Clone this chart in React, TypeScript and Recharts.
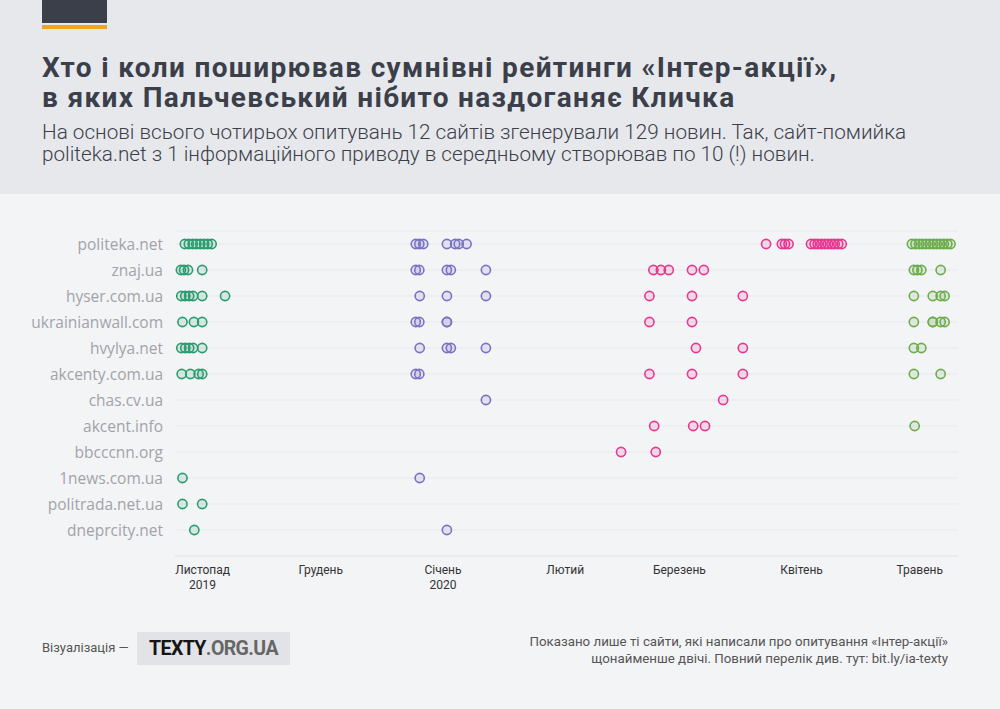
import React from 'react'
import { ScatterChart, Scatter, XAxis, YAxis, CartesianGrid } from 'recharts'

const SITES = [
  'politeka.net',
  'znaj.ua',
  'hyser.com.ua',
  'ukrainianwall.com',
  'hvylya.net',
  'akcenty.com.ua',
  'chas.cv.ua',
  'akcent.info',
  'bbcccnn.org',
  '1news.com.ua',
  'politrada.net.ua',
  'dneprcity.net',
]

// x values are days counted from 1 November 2019
const MONTH_DAYS = [0, 30, 61, 92, 121, 152, 182]
const MONTH_LABELS = ['Листопад\n2019', 'Грудень', 'Січень\n2020', 'Лютий', 'Березень', 'Квітень', 'Травень']

// one list per poll: site -> days when a news item appeared
const POLL_NOV: [string, number[]][] = [
  ['politeka.net', [-4.5, -3.5, -2.5, -1.6, -0.6, 0.4, 1.3, 2.3]],
  ['znaj.ua', [-5.5, -4.7, -3.7, -0.1]],
  ['hyser.com.ua', [-5.4, -4.4, -3.4, -2.4, -0.1, 5.7]],
  ['ukrainianwall.com', [-5.1, -2.2, -0.1]],
  ['hvylya.net', [-5.4, -4.4, -3.4, -2.4, -0.1]],
  ['akcenty.com.ua', [-5.3, -3.1, -1.0, -0.1]],
  ['1news.com.ua', [-5.1]],
  ['politrada.net.ua', [-5.1, -0.1]],
  ['dneprcity.net', [-2.1]],
]

const POLL_JAN: [string, number[]][] = [
  ['politeka.net', [54.1, 55.0, 56.0, 62.0, 64.1, 65.0, 67.0]],
  ['znaj.ua', [54.1, 55.0, 62.0, 63.0, 71.9]],
  ['hyser.com.ua', [55.1, 62.0, 71.9]],
  ['ukrainianwall.com', [54.1, 55.0, 62.0, 62.0]],
  ['hvylya.net', [55.1, 62.0, 63.0, 71.9]],
  ['akcenty.com.ua', [54.1, 55.0]],
  ['chas.cv.ua', [71.9]],
  ['1news.com.ua', [55.1]],
  ['dneprcity.net', [62.0]],
]

const POLL_MAR: [string, number[]][] = [
  ['politeka.net', [143.0, 147.0, 147.8, 148.7, 154.4, 155.3, 156.1, 157.0, 157.9, 158.7, 159.6, 160.4, 161.3, 162.2]],
  ['znaj.ua', [114.4, 116.3, 118.3, 124.2, 127.2]],
  ['hyser.com.ua', [113.4, 124.2, 137.1]],
  ['ukrainianwall.com', [113.4, 124.2]],
  ['hvylya.net', [125.2, 137.1]],
  ['akcenty.com.ua', [113.4, 124.2, 137.1]],
  ['chas.cv.ua', [132.1]],
  ['akcent.info', [114.6, 124.5, 127.5]],
  ['bbcccnn.org', [106.2, 115.0]],
]

const POLL_MAY: [string, number[]][] = [
  ['politeka.net', [180.0, 180.9, 181.8, 182.7, 183.6, 184.5, 185.4, 186.3, 187.2, 188.1, 189.0, 189.8]],
  ['znaj.ua', [180.5, 181.4, 182.4, 187.3]],
  ['hyser.com.ua', [180.5, 185.3, 187.3, 188.3]],
  ['ukrainianwall.com', [180.5, 185.3, 185.3, 187.3, 188.3]],
  ['hvylya.net', [180.5, 182.4]],
  ['akcenty.com.ua', [180.5, 187.3]],
  ['akcent.info', [180.7]],
]

const POLL_COLORS = ['#2b9d6f', '#7a73c3', '#e8378f', '#6dad4b']

const toPoints = (poll: [string, number[]][]) =>
  poll.flatMap(([site, days]) => days.map((d) => ({ x: d, y: SITES.indexOf(site) })))

const polls = [POLL_NOV, POLL_JAN, POLL_MAR, POLL_MAY].map(toPoints)

const Dot = (color: string) => (props: any) => (
  <circle cx={props.cx} cy={props.cy} r={4.6} fill={color} fillOpacity={0.13} stroke={color} strokeWidth={1.6} />
)

const MonthTick = (props: any) => {
  const { x, y, payload } = props
  const idx = MONTH_DAYS.indexOf(payload.value)
  const lines = (MONTH_LABELS[idx] || '').split('\n')
  return (
    <text x={x} y={y} textAnchor="middle" fill="#333" fontSize={12} fontFamily="Roboto">
      {lines.map((l, i) => (
        <tspan key={i} x={x} dy={i === 0 ? 16 : 15}>{l}</tspan>
      ))}
    </text>
  )
}

export default function App() {
  return (
    <div style={{ position: 'absolute', left: 0, top: 0, width: 1000, height: 709, background: '#f3f4f6', overflow: 'hidden', fontFamily: 'Roboto' }}>
      <div style={{ position: 'absolute', left: 0, top: 0, width: 1000, height: 194, background: '#e7e8ec' }} />
      <div style={{ position: 'absolute', left: 42, top: 0, width: 65, height: 23, background: '#3b3f4a' }} />
      <div style={{ position: 'absolute', left: 42, top: 25, width: 65, height: 4, background: '#f5a31a' }} />
      <div style={{ position: 'absolute', left: 42, top: 52.5, fontSize: 28, lineHeight: '30.5px', fontWeight: 700, letterSpacing: 1.35, color: '#3b3f4a', whiteSpace: 'nowrap' }}>
        Хто і коли поширював сумнівні рейтинги «Інтер-акції»,<br />в яких Пальчевський нібито наздоганяє Кличка
      </div>
      <div style={{ position: 'absolute', left: 42, top: 121, fontSize: 20.7, lineHeight: '22px', fontWeight: 300, color: '#3b3f4a', whiteSpace: 'nowrap' }}>
        На основі всього чотирьох опитувань 12 сайтів згенерували 129 новин. Так, сайт-помийка<br />politeka.net з 1 інформаційного приводу в середньому створював по 10 (!) новин.
      </div>

      <div style={{ position: 'absolute', left: 0, top: 0 }}>
        <ScatterChart width={1000} height={610} margin={{ top: 231, right: 42, bottom: 14, left: 0 }}>
          <CartesianGrid vertical={false} stroke="#e8e9ed" />
          <XAxis
            type="number"
            dataKey="x"
            domain={[-7, 191.7]}
            ticks={MONTH_DAYS}
            interval={0}
            height={40}
            tickSize={0}
            tickLine={false}
            axisLine={{ stroke: '#e8e9ed' }}
            tick={<MonthTick />}
          />
          <YAxis
            type="number"
            dataKey="y"
            domain={[-0.5, 12]}
            reversed
            ticks={SITES.map((_, i) => i)}
            interval={0}
            width={175}
            tickSize={0}
            tickMargin={12}
            tickLine={false}
            axisLine={false}
            tickFormatter={(v: number) => SITES[v]}
            tick={{ fill: '#a2a3a8', fontSize: 15.5, fontFamily: 'Open Sans' }}
          />
          {polls.map((pts, i) => (
            <Scatter key={i} data={pts} shape={Dot(POLL_COLORS[i])} isAnimationActive={false} />
          ))}
        </ScatterChart>
      </div>

      <div style={{ position: 'absolute', left: 42, top: 640, fontSize: 13, lineHeight: '16px', color: '#555' }}>Візуалізація —</div>
      <div style={{ position: 'absolute', left: 137, top: 632, width: 153, height: 33, background: '#e2e3e7', display: 'flex', alignItems: 'center', justifyContent: 'center', fontSize: 19.5, fontWeight: 700, fontFamily: 'Roboto', letterSpacing: -0.6 }}>
        <span style={{ color: '#151515' }}>TEXTY</span>
        <span style={{ color: '#666' }}>.ORG.UA</span>
      </div>
      <div style={{ position: 'absolute', right: 52, top: 634, fontSize: 13.3, lineHeight: '16.5px', color: '#555', textAlign: 'right', whiteSpace: 'nowrap' }}>
        Показано лише ті сайти, які написали про опитування «Інтер-акції»<br />щонайменше двічі. Повний перелік див. тут: bit.ly/ia-texty
      </div>
    </div>
  )
}
